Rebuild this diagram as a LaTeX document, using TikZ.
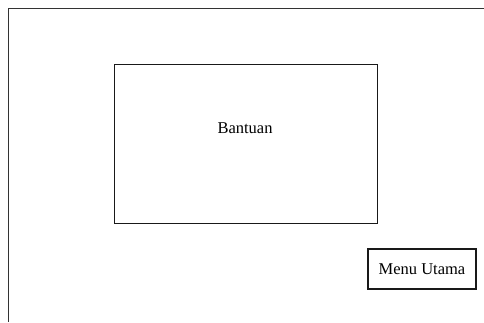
\documentclass[tikz,border=0pt]{standalone}
\usepackage{fontspec}
\setmainfont{Liberation Serif}
\begin{document}
\begin{tikzpicture}[x=1pt,y=-1pt,
  frame/.style={draw=black!80,line width=1.5pt},
  box/.style={draw=black!90,line width=1.3pt},
  lbl/.style={font=\fontsize{16.5}{18}\selectfont,text=black}]
\useasboundingbox (0,0) rectangle (484,322);
\coordinate (ftop) at (484,8.5);
\coordinate (fcorner) at (8.5,8.5);
\coordinate (fbot) at (8.5,322);
\draw[frame] (ftop) -- (fcorner) -- (fbot);
\node[box,minimum width=263pt,minimum height=159pt,inner sep=0pt] (help) at (246,144) {};
\node[lbl] (bantuan) at (245,128) {Bantuan};
\node[box,lbl,minimum width=108pt,minimum height=40pt,inner sep=0pt] (menu) at (422,269) {Menu Utama};
\end{tikzpicture}
\end{document}
